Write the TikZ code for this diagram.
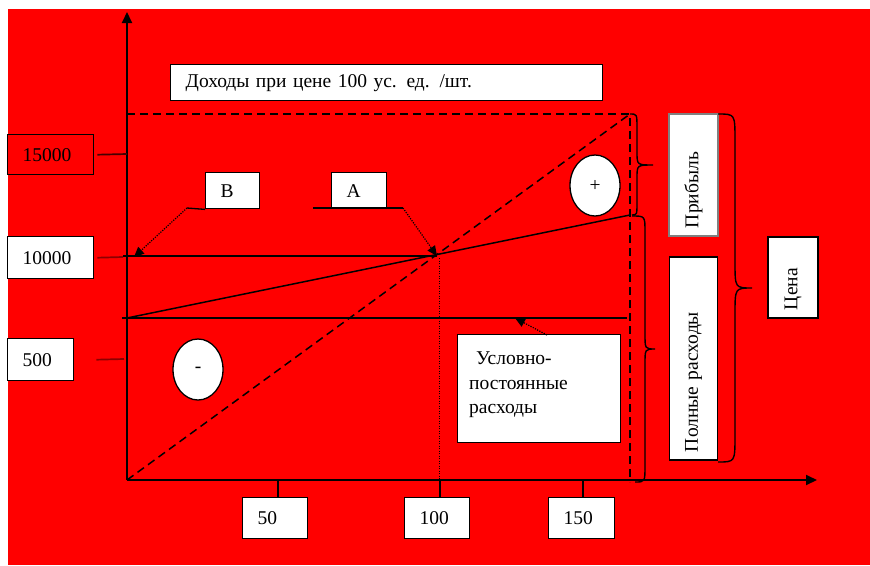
\documentclass[tikz,border=0pt]{standalone}
\usepackage{fontspec}
\setmainfont{Liberation Serif}
\usetikzlibrary{arrows.meta,calc,shapes.geometric}
\definecolor{bgred}{RGB}{255,0,0}
\definecolor{tickred}{RGB}{140,0,0}
\definecolor{tickdark}{RGB}{70,0,0}
\begin{document}
\begin{tikzpicture}[x=1pt,y=-1pt,
  every node/.style={font=\fontsize{19.5}{24.5}\selectfont},
  box/.style={draw=black, line width=1.4pt, fill=white, inner ysep=0pt, inner xsep=15pt, align=left, anchor=north west},
  vbox/.style={draw=black, line width=1.4pt, fill=white, inner ysep=0pt, inner xsep=8pt, align=left, rotate=90},
  oval/.style={draw=black, line width=1.3pt, fill=white, ellipse, inner sep=0pt, minimum width=50pt, minimum height=61pt},
  axis/.style={line width=2pt, -{Triangle[length=11pt,width=10pt]}},
  solidline/.style={line width=1.5pt},
  dashline/.style={line width=1.5pt, dash pattern=on 8pt off 5pt},
  leader/.style={line width=1.2pt, dash pattern=on 1.2pt off 1.3pt, -{Triangle[length=10pt,width=9pt]}},
  tick/.style={line width=1.7pt},
  wbrace/.style={line width=1.4pt}]
\useasboundingbox (0,0) rectangle (870,565);
\fill[white] (0,0) rectangle (870,565);
\fill[bgred] (8,9) rectangle (870,565);

% coordinates
\coordinate (O) at (127,480);
\coordinate (Ytop) at (127,12);
\coordinate (Xend) at (817,480);
\coordinate (TR) at (630,114);
\coordinate (TL) at (127,114);
\coordinate (DB) at (630,482);
\coordinate (BE) at (437,256);
\coordinate (FCl) at (122,318);
\coordinate (FCr) at (627,318);
\coordinate (TCr) at (630,215);
\coordinate (Hl) at (123,256);

% axes
\draw[axis] (O) -- (Ytop);
\draw[axis] (O) -- (Xend);

% dashed frame and revenue line
\draw[dashline] (TL) -- (TR) -- (DB);
\draw[dashline] (O) -- (TR);

% fixed costs, total costs, 10000 line
\draw[solidline] (FCl) -- (FCr);
\draw[solidline] (127,318) -- (TCr);
\draw[solidline] (Hl) -- (BE);
\draw[line width=1pt, dash pattern=on 1.2pt off 1.3pt] (439,258) -- (439,480);

% boxes
\node[box, minimum height=36pt, text width=402pt] (rev) at (170,64) {Доходы при цене 100 ус. ед. /шт.};
\node[box, fill=bgred, minimum height=40pt, text width=56pt] (v15) at (7,134) {15000};
\node[box, minimum height=42pt, text width=56pt] (v10) at (7,236) {10000};
\node[box, minimum height=42pt, text width=36pt] (v5) at (7,338) {500};
\node[box, minimum height=36pt, text width=24pt] (B) at (205,172) {B};
\node[box, minimum height=36pt, text width=25pt] (A) at (331,172) {A};
\node[box, minimum height=41pt, text width=35pt] (x50) at (242,497) {50};
\node[box, minimum height=41pt, text width=35pt] (x100) at (404,497) {100};
\node[box, minimum height=41pt, text width=36pt] (x150) at (548,497) {150};
\node[draw=black, line width=1.4pt, fill=white, anchor=north west, minimum width=163pt, minimum height=108pt, inner sep=0pt] (upc) at (457,334) {};
\node[anchor=north west, align=left, inner sep=0pt] (upctext) at (469,352) {\hspace*{7pt}Условно-\\постоянные\\расходы};

\node[vbox, draw=gray, minimum width=122pt, minimum height=49pt, text width=106pt] (prof) at (693.5,175) {Прибыль};
\node[vbox, minimum width=203pt, minimum height=48pt, text width=187pt] (full) at (693.5,358.5) {Полные расходы};
\node[vbox, minimum width=81pt, minimum height=50pt, text width=65pt] (price) at (793,277.5) {Цена};

% ovals
\node[oval] (plus) at (595,185.5) {+};
\node[oval] (minus) at (198,369.5) {-};

% ticks
\draw[tick, tickdark] ($(v15.east)+(3,0)$) -- (127,154);
\draw[tick, tickred] ($(v10.east)+(3,0)$) -- (123,257);
\draw[tick, tickred] ($(v5.east)+(22,0)$) -- (124,359);
\draw[tick] (278,480) -- (278,497);
\draw[tick] (440,480) -- (440,497);
\draw[tick] (583,480) -- (583,497);

% leaders
\coordinate (Bk) at (187,208);
\coordinate (Ak1) at (313,208);
\coordinate (Ak2) at (403,208);
\draw[solidline, line width=1.3pt] (Bk) -- (B.south west);
\draw[leader] (Bk) -- (134,257);
\draw[solidline, line width=1.3pt] (Ak1) -- (Ak2);
\draw[leader] (Ak2) -- (BE);
\draw[leader] (547,335) -- (515,318);

% braces
\draw[wbrace] (630,114) .. controls (637,114) .. (637,128) -- (637,152) .. controls (637,165) .. (653,165) .. controls (637,165) .. (637,178) -- (637,202) .. controls (637,215) .. (632,215);
\draw[wbrace] (632,216) .. controls (645,216) .. (645,232) -- (645,334) .. controls (645,349) .. (655,349) .. controls (645,349) .. (645,364) -- (645,466) .. controls (645,482) .. (635,482);
\draw[wbrace] (718,114) .. controls (735,114) .. (735,140) -- (735,262) .. controls (735,288) .. (752,288) .. controls (735,288) .. (735,314) -- (735,436) .. controls (735,462) .. (718,462);
\end{tikzpicture}
\end{document}
